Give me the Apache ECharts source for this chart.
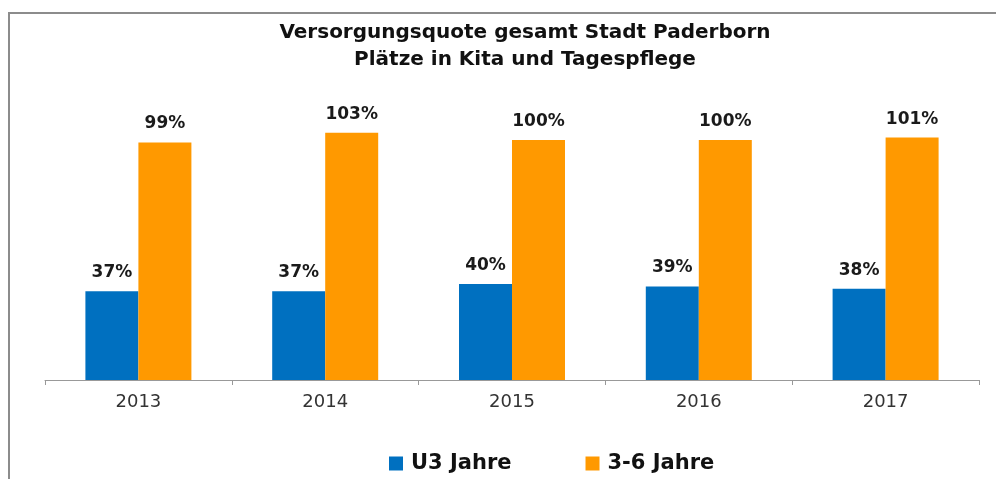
<!DOCTYPE html>
<html>
<head>
<meta charset="utf-8">
<script src="https://cdn.jsdelivr.net/npm/echarts@6/dist/echarts.min.js"></script>
<style>html,body{margin:0;padding:0;background:#fff}#c{width:996px;height:479px}</style>
</head>
<body>
<div id="c"></div>
<script>
const titleLines = ['Versorgungsquote gesamt Stadt Paderborn', 'Plätze in Kita und Tagespflege'];
const categories = ['2013', '2014', '2015', '2016', '2017'];
const seriesNames = ['U3 Jahre', '3-6 Jahre'];
const u3Values = [37, 37, 40, 39, 38];
const age36Values = [99, 103, 100, 100, 101];
const colors = ['#0070C0', '#FF9900'];

const chart = echarts.init(document.getElementById('c'), null, {renderer: 'canvas'});
const labelStyle = {
  show: true, position: 'top', distance: 10,
  formatter: '{c}%', fontFamily: 'DejaVu Sans', fontWeight: 'bold', fontSize: 17, color: '#1a1a1a'
};
chart.setOption({
  animation: false,
  backgroundColor: '#fff',
  title: {
    text: titleLines.join('\n'),
    left: 520, top: 14, textAlign: 'center',
    textStyle: {fontFamily: 'DejaVu Sans', fontWeight: 'bold', fontSize: 20, lineHeight: 27, color: '#111'}
  },
  legend: {
    data: seriesNames, left: 384, top: 448, itemWidth: 14, itemHeight: 14, itemGap: 74,
    icon: 'rect',
    textStyle: {fontFamily: 'DejaVu Sans', fontWeight: 'bold', fontSize: 21, color: '#111', padding: [0, 0, 0, 3]}
  },
  grid: {left: 45, right: 17, top: 92, bottom: 99},
  xAxis: {
    type: 'category', data: categories,
    axisLine: {lineStyle: {color: '#999', width: 1}},
    axisTick: {show: true, length: 5, lineStyle: {color: '#999'}},
    axisLabel: {fontFamily: 'DejaVu Sans', fontSize: 18, color: '#333', margin: 13}
  },
  yAxis: {type: 'value', min: 0, max: 120, show: false, splitLine: {show: false}},
  series: [
    {name: seriesNames[0], type: 'bar', data: u3Values, barWidth: 53, barGap: '0%',
     itemStyle: {color: colors[0]}, label: labelStyle},
    {name: seriesNames[1], type: 'bar', data: age36Values, barWidth: 53, barGap: '0%',
     itemStyle: {color: colors[1]}, label: labelStyle}
  ],
  graphic: [
    {type: 'line', shape: {x1: 8, y1: 13, x2: 996, y2: 13}, style: {stroke: '#8c8c8c', lineWidth: 2}, silent: true},
    {type: 'line', shape: {x1: 9, y1: 12, x2: 9, y2: 479}, style: {stroke: '#8c8c8c', lineWidth: 2}, silent: true}
  ]
});
</script>
</body>
</html>
